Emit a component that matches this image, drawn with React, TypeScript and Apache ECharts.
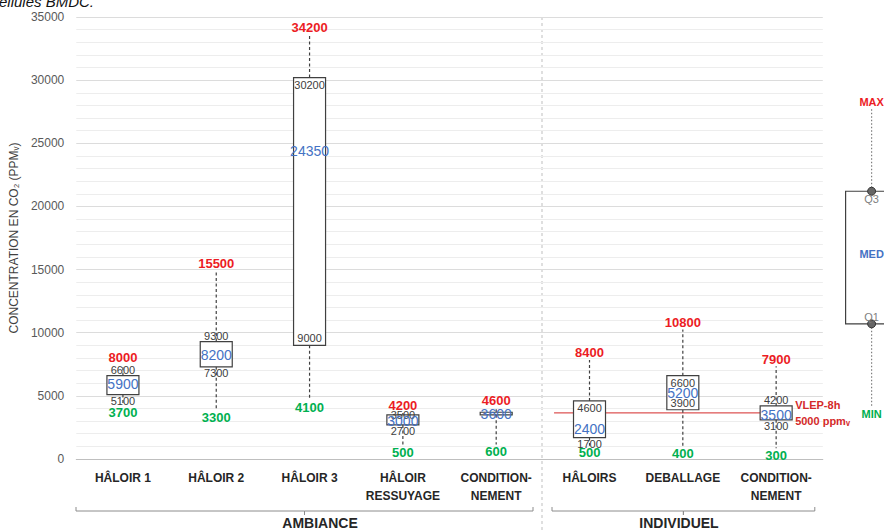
import React, { useEffect, useRef } from "react";
import * as echarts from "echarts";

// ---------- data ----------
const CATEGORIES = [
  "HÂLOIR 1",
  "HÂLOIR 2",
  "HÂLOIR 3",
  "HÂLOIR\nRESSUYAGE",
  "CONDITION-\nNEMENT",
  "HÂLOIRS",
  "DEBALLAGE",
  "CONDITION-\nNEMENT",
];
const MINS = [3700, 3300, 4100, 500, 600, 500, 400, 300];
const Q1S = [5100, 7300, 9000, 2700, 3500, 1700, 3900, 3100];
const MEDIANS = [5900, 8200, 24350, 3000, 3600, 2400, 5200, 3500];
const Q3S = [6600, 9300, 30200, 3500, 3700, 4600, 6600, 4200];
const MAXS = [8000, 15500, 34200, 4200, 4600, 8400, 10800, 7900];

const GROUPS = ["AMBIANCE", "INDIVIDUEL"];

// legend schematic (min, q1, med, q3, max)
const LEGEND_VALUES = [3600, 10700, 16200, 21200, 28300];
const LEGEND_LABELS = ["MIN", "Q1", "MED", "Q3", "MAX"];

const VLEP_LEVEL = 3650;
const VLEP_SPAN = [5.12, 7.65];
const VLEP_LABEL_1 = "VLEP-8h";
const VLEP_LABEL_2 = "5000 ppmᵥ";

const Y_MIN = 0;
const Y_MAX = 35000;
const Y_INTERVAL = 5000;

// ---------- styles / layout ----------
// label placement of quartile values relative to the box edge
const Q3_POS = ["out", "out", "in", "edge", "none", "in", "in", "out"];
const Q1_POS = ["out", "out", "in", "out", "none", "out", "in", "out"];

const W = 884;
const H = 530;
const GRID_LEFT = 74;
const GRID_TOP = 17;
const GRID_BOTTOM = 71;
const BAND = 93.6;
const MAIN_WIDTH = BAND * 8;

const FONT = '"Liberation Sans", Arial, sans-serif';
const RED = "#ec1c24";
const GREEN = "#00b050";
const BLUE = "#4472c4";
const DARK = "#404040";

type Opt = {
  legend: boolean;
  boxWidth: number;
  dx: number;
};

function makeRenderItem(opt: Opt) {
  return (params: any, api: any) => {
    const idx = api.value(0);
    const vals = [1, 2, 3, 4, 5].map((i) => api.value(i));
    const pts = vals.map((v) => api.coord([idx, v]));
    const cx = pts[0][0] + opt.dx;
    const [yMin, yQ1, yMed, yQ3, yMax] = pts.map((p: number[]) => p[1]);
    const bw = opt.boxWidth;
    const gap = 7;
    const dash = opt.legend ? [1.5, 2] : [3, 2.5];
    const whiskerColor = opt.legend ? "#7f7f7f" : DARK;
    const labels = opt.legend
      ? LEGEND_LABELS
      : vals.map((v: number) => String(v));

    const children: any[] = [];
    if (yMax + gap < yQ3) {
      children.push({
        type: "line",
        shape: { x1: cx, y1: yQ3, x2: cx, y2: yMax + gap },
        style: { stroke: whiskerColor, lineWidth: 1.2, lineDash: dash },
      });
    }
    if (yMin - gap > yQ1) {
      children.push({
        type: "line",
        shape: { x1: cx, y1: yQ1, x2: cx, y2: yMin - gap },
        style: { stroke: whiskerColor, lineWidth: 1.2, lineDash: dash },
      });
    }
    children.push({
      type: "rect",
      shape: { x: cx - bw / 2, y: yQ3, width: bw, height: Math.max(yQ1 - yQ3, 1) },
      style: { fill: "#ffffff", stroke: DARK, lineWidth: 1.2 },
    });
    if (opt.legend) {
      children.push(
        { type: "circle", shape: { cx, cy: yQ3, r: 4 }, style: { fill: "#666666", stroke: "#333333", lineWidth: 1 } },
        { type: "circle", shape: { cx, cy: yQ1, r: 4 }, style: { fill: "#666666", stroke: "#333333", lineWidth: 1 } }
      );
    }
    const txt = (text: string, y: number, fill: string, font: string) => ({
      type: "text",
      x: cx,
      y,
      style: { text, fill, font, align: "center", verticalAlign: "middle" },
    });
    const boldFont = `bold 13px ${FONT}`;
    const smallFont = `11px ${FONT}`;
    const medFont = `14px ${FONT}`;
    const legFont = `bold 11px ${FONT}`;

    // max / min
    children.push(txt(labels[4], yMax, RED, opt.legend ? legFont : boldFont));
    children.push(txt(labels[0], yMin, GREEN, opt.legend ? legFont : boldFont));

    // quartiles
    const q3pos = opt.legend ? "in" : Q3_POS[params.dataIndex];
    const q1pos = opt.legend ? "in" : Q1_POS[params.dataIndex];
    const q3off = q3pos === "out" ? -5.5 : q3pos === "in" ? 7.5 : 0;
    const q1off = q1pos === "out" ? 6.5 : q1pos === "in" ? -7 : 0;
    const qColor = opt.legend ? "#7f7f7f" : DARK;
    const qFont = opt.legend ? `11px ${FONT}` : smallFont;
    if (q3pos !== "none") children.push(txt(labels[3], yQ3 + q3off, qColor, qFont));
    if (q1pos !== "none") children.push(txt(labels[1], yQ1 + q1off, qColor, qFont));

    // median
    children.push(txt(labels[2], yMed, BLUE, opt.legend ? legFont : medFont));

    return { type: "group", children };
  };
}

export default function App() {
  const ref = useRef<HTMLDivElement>(null);

  useEffect(() => {
    document.body.style.margin = "0";
    if (!ref.current) return;
    const chart = echarts.init(ref.current, undefined, { renderer: "svg" });

    const boxData = CATEGORIES.map((_, i) => [i, MINS[i], Q1S[i], MEDIANS[i], Q3S[i], MAXS[i]]);
    const legendData = [[0, ...LEGEND_VALUES]];

    const sepX = GRID_LEFT + 5 * BAND;
    const mainRight = GRID_LEFT + MAIN_WIDTH;
    const brY = 511;
    const amb = [GRID_LEFT + 2, sepX - 9];
    const ind = [sepX + 10, mainRight - 8];
    const bracket = (a: number[]) => {
      const m = (a[0] + a[1]) / 2;
      return [
        [a[0], brY - 4],
        [a[0], brY],
        [m, brY],
        [m, brY + 4],
        [m, brY],
        [a[1], brY],
        [a[1], brY - 4],
      ];
    };

    chart.setOption({
      animation: false,
      grid: [
        { left: GRID_LEFT, top: GRID_TOP, width: MAIN_WIDTH, bottom: GRID_BOTTOM },
        { left: mainRight, top: GRID_TOP, right: 0, bottom: GRID_BOTTOM },
      ],
      xAxis: [
        {
          type: "category",
          gridIndex: 0,
          data: CATEGORIES,
          boundaryGap: true,
          axisTick: { show: false },
          axisLine: { show: true, lineStyle: { color: "#bfbfbf", width: 1 } },
          axisLabel: {
            interval: 0,
            margin: 10,
            color: "#262626",
            fontWeight: "bold",
            fontSize: 12,
            fontFamily: FONT,
            lineHeight: 18,
          },
        },
        { type: "value", gridIndex: 0, min: 0, max: 8, show: false },
        {
          type: "value",
          gridIndex: 1,
          min: -0.5,
          max: -0.5 + (W - mainRight) / BAND,
          show: false,
        },
      ],
      yAxis: [
        {
          type: "value",
          gridIndex: 0,
          min: Y_MIN,
          max: Y_MAX,
          interval: Y_INTERVAL,
          name: "CONCENTRATION EN CO₂ (PPMᵥ)",
          nameLocation: "middle",
          nameGap: 56,
          nameTextStyle: { color: "#404040", fontSize: 12, fontFamily: FONT },
          axisLine: { show: false },
          axisTick: { show: false },
          axisLabel: {
            color: "#595959",
            fontSize: 12,
            fontFamily: FONT,
            margin: 12,
            formatter: (v: number) => String(v),
          },
          splitLine: { show: true, lineStyle: { color: "#dcdcdc", width: 1 } },
          minorTick: { show: false, splitNumber: 5 },
          minorSplitLine: { show: true, lineStyle: { color: "#ededed", width: 1 } },
        },
        { type: "value", gridIndex: 1, min: Y_MIN, max: Y_MAX, show: false },
      ],
      series: [
        {
          type: "line",
          xAxisIndex: 1,
          yAxisIndex: 0,
          z: 1,
          symbol: "none",
          lineStyle: { color: "#d42a2a", width: 1 },
          data: [
            [VLEP_SPAN[0], VLEP_LEVEL],
            [VLEP_SPAN[1], VLEP_LEVEL],
          ],
          endLabel: {
            show: true,
            distance: 5,
            formatter: `${VLEP_LABEL_1}\n${VLEP_LABEL_2}`,
            color: "#d42a2a",
            fontWeight: "bold",
            fontSize: 11,
            fontFamily: FONT,
            lineHeight: 16,
            align: "left",
          },
        },
        {
          type: "custom",
          xAxisIndex: 0,
          yAxisIndex: 0,
          z: 3,
          renderItem: makeRenderItem({ legend: false, boxWidth: 32, dx: 0 }),
          encode: { x: 0, y: [1, 2, 3, 4, 5] },
          data: boxData,
        },
        {
          type: "custom",
          xAxisIndex: 2,
          yAxisIndex: 1,
          z: 3,
          clip: false,
          renderItem: makeRenderItem({ legend: true, boxWidth: 52, dx: 2 }),
          encode: { x: 0, y: [1, 2, 3, 4, 5] },
          data: legendData,
        },
      ],
      graphic: [
        {
          type: "text",
          x: -1,
          y: 9,
          style: {
            text: "ellules BMDC.",
            fill: "#111111",
            font: `italic 15px ${FONT}`,
            verticalAlign: "bottom",
          },
        },
        {
          type: "line",
          shape: { x1: sepX, y1: GRID_TOP, x2: sepX, y2: H },
          style: { stroke: "#bfbfbf", lineWidth: 1, lineDash: [3, 3] },
        },
        {
          type: "polyline",
          shape: { points: bracket(amb) },
          style: { stroke: "#8c8c8c", lineWidth: 1, fill: "none" },
        },
        {
          type: "polyline",
          shape: { points: bracket(ind) },
          style: { stroke: "#8c8c8c", lineWidth: 1, fill: "none" },
        },
        {
          type: "text",
          x: 320,
          y: 523,
          style: {
            text: GROUPS[0],
            fill: "#262626",
            font: `bold 14px ${FONT}`,
            align: "center",
            verticalAlign: "middle",
          },
        },
        {
          type: "text",
          x: 679,
          y: 523,
          style: {
            text: GROUPS[1],
            fill: "#262626",
            font: `bold 14px ${FONT}`,
            align: "center",
            verticalAlign: "middle",
          },
        },
      ],
    });

    return () => chart.dispose();
  }, []);

  return <div ref={ref} style={{ width: W, height: H }} />;
}
